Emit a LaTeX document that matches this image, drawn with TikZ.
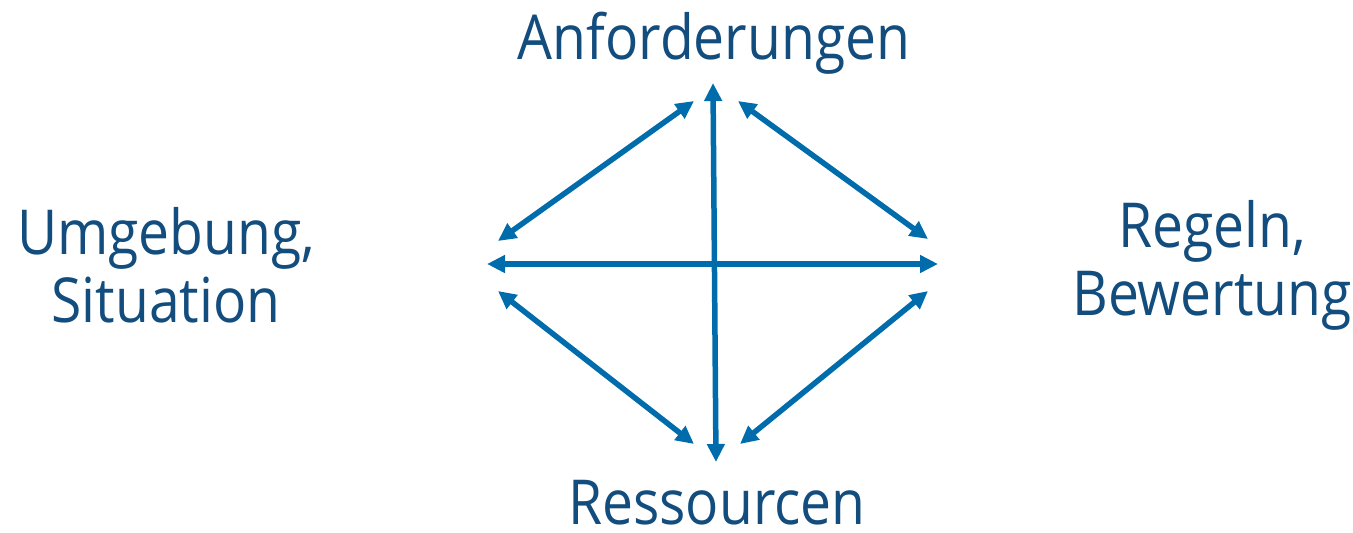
\documentclass[tikz,border=0pt]{standalone}
\usepackage{fontspec}
\setmainfont{Open Sans}[FakeStretch=0.89]
\usetikzlibrary{arrows.meta}
\definecolor{txtblue}{HTML}{124D7E}
\definecolor{arrblue}{HTML}{006CAB}
\tikzset{
  lbl/.style={text=txtblue, font=\fontsize{62}{68}\selectfont, inner sep=0pt},
  lbl2/.style={lbl, align=center},
  dbl/.style={draw=arrblue, line width=5.5pt, {Triangle[length=18pt,width=17pt]}-{Triangle[length=18pt,width=17pt]}}
}
\begin{document}
\begin{tikzpicture}[x=1pt,y=-1pt]
\useasboundingbox (0,0) rectangle (1353,533);
\node[lbl, anchor=base] (anf) at (714,59) {Anforderungen};
\node[lbl, anchor=base] (res) at (717,524) {Ressourcen};
\node[lbl2] (umg) at (166,265) {Umgebung,\\Situation};
\node[lbl2] (reg) at (1212,265) {Regeln,\\Bewertung};
\coordinate (vt) at (713,83);
\coordinate (vb) at (716,462);
\coordinate (hl) at (487,264);
\coordinate (hr) at (938,264);
\coordinate (ul1) at (498,241);
\coordinate (ul2) at (694,101);
\coordinate (ur1) at (738,101);
\coordinate (ur2) at (928,239);
\coordinate (ll1) at (498,291);
\coordinate (ll2) at (694,444);
\coordinate (lr1) at (740,444);
\coordinate (lr2) at (928,291);
\draw[dbl] (vt) -- (vb);
\draw[dbl] (hl) -- (hr);
\draw[dbl] (ul1) -- (ul2);
\draw[dbl] (ur1) -- (ur2);
\draw[dbl] (ll1) -- (ll2);
\draw[dbl] (lr1) -- (lr2);
\end{tikzpicture}
\end{document}
